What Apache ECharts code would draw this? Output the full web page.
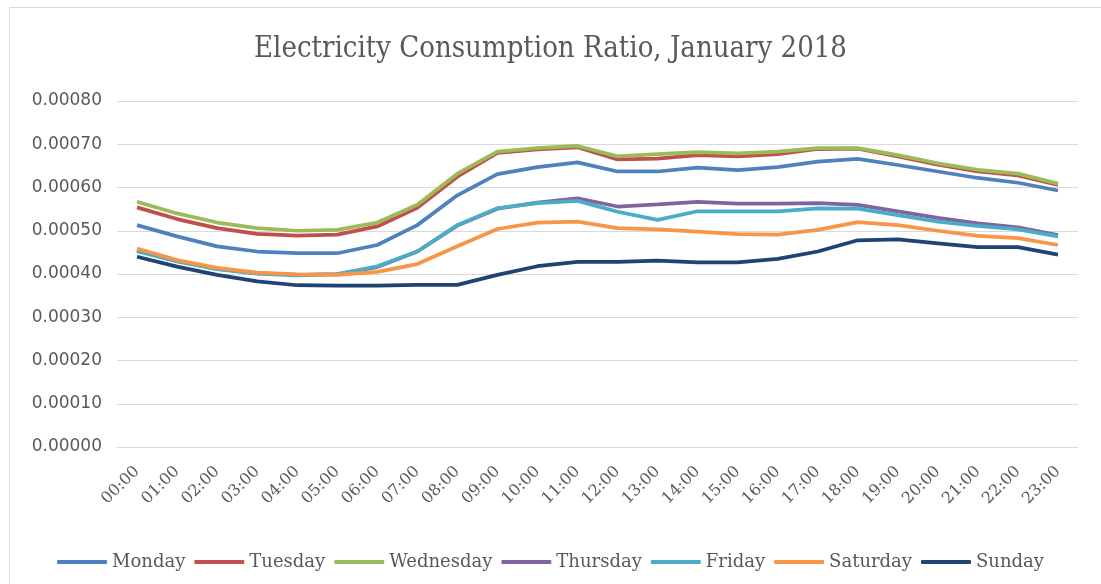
<!DOCTYPE html>
<html>
<head>
<meta charset="utf-8">
<script src="https://cdn.jsdelivr.net/npm/echarts@6/dist/echarts.min.js"></script>
<style>html,body{margin:0;padding:0;background:#fff;}#c{width:1101px;height:584px;}</style>
</head>
<body>
<div id="c"></div>
<script>
var hours = ["00:00","01:00","02:00","03:00","04:00","05:00","06:00","07:00","08:00","09:00","10:00","11:00","12:00","13:00","14:00","15:00","16:00","17:00","18:00","19:00","20:00","21:00","22:00","23:00"];
var yTicks = [0,0.0001,0.0002,0.0003,0.0004,0.0005,0.0006,0.0007,0.0008];
var monday = [0.000513,0.000487,0.000464,0.000452,0.000448,0.000448,0.000467,0.000513,0.000582,0.000631,0.000647,0.000658,0.000637,0.000637,0.000646,0.000640,0.000647,0.000660,0.000666,0.000652,0.000637,0.000622,0.000611,0.000593];
var tuesday = [0.000554,0.000527,0.000506,0.000493,0.000489,0.000491,0.000510,0.000553,0.000625,0.000680,0.000688,0.000693,0.000665,0.000667,0.000675,0.000672,0.000677,0.000689,0.000690,0.000672,0.000653,0.000637,0.000628,0.000606];
var wednesday = [0.000567,0.000540,0.000519,0.000506,0.000500,0.000502,0.000519,0.000560,0.000632,0.000683,0.000691,0.000696,0.000672,0.000677,0.000682,0.000679,0.000683,0.000691,0.000691,0.000675,0.000656,0.000641,0.000632,0.000609];
var thursday = [0.000455,0.000430,0.000412,0.000402,0.000398,0.000400,0.000416,0.000452,0.000512,0.000551,0.000565,0.000575,0.000556,0.000561,0.000567,0.000563,0.000563,0.000564,0.000560,0.000545,0.000530,0.000517,0.000508,0.000490];
var friday = [0.000453,0.000429,0.000411,0.000401,0.000397,0.000399,0.000418,0.000452,0.000513,0.000552,0.000564,0.000569,0.000544,0.000525,0.000545,0.000545,0.000545,0.000552,0.000551,0.000536,0.000521,0.000511,0.000503,0.000487];
var saturday = [0.000459,0.000432,0.000414,0.000403,0.000399,0.000398,0.000405,0.000423,0.000464,0.000504,0.000519,0.000521,0.000506,0.000503,0.000498,0.000492,0.000491,0.000502,0.000520,0.000513,0.000500,0.000488,0.000483,0.000467];
var sunday = [0.000440,0.000417,0.000398,0.000383,0.000374,0.000373,0.000373,0.000375,0.000375,0.000398,0.000418,0.000428,0.000428,0.000431,0.000427,0.000427,0.000435,0.000452,0.000478,0.000480,0.000471,0.000462,0.000462,0.000445];

var names = ["Monday","Tuesday","Wednesday","Thursday","Friday","Saturday","Sunday"];
var colors = ["#4F81BD","#C0504D","#9BBB59","#8064A2","#4BACC6","#F79646","#1F4373"];
var values = [monday,tuesday,wednesday,thursday,friday,saturday,sunday];

var serifC = '"DejaVu Serif Condensed","DejaVu Serif",serif';
var serif = '"DejaVu Serif",serif';
var chart = echarts.init(document.getElementById('c'), null, {renderer:'canvas'});
chart.setOption({
  animation:false,
  backgroundColor:'#fff',
  graphic:[{type:'rect',shape:{x:9.5,y:7.5,width:1200,height:700},style:{fill:'none',stroke:'#d9d9d9',lineWidth:1},silent:true}],
  title:{text:'Electricity Consumption Ratio, January 2018',left:'center',top:30,
    textStyle:{fontFamily:serifC,fontSize:29,fontWeight:'normal',color:'#595959'}},
  legend:{bottom:8,left:'center',itemWidth:50,itemHeight:4,itemGap:9,icon:'roundRect',
    textStyle:{fontFamily:serif,fontSize:18,color:'#595959'},
    data:names},
  grid:{left:117,right:23,top:101,bottom:137},
  xAxis:{type:'category',data:hours,boundaryGap:true,
    axisLine:{show:true,lineStyle:{color:'#d9d9d9'}},axisTick:{show:false},
    axisLabel:{rotate:45,margin:22,fontFamily:serif,fontSize:16,color:'#595959',interval:0}},
  yAxis:{type:'value',min:yTicks[0],max:yTicks[yTicks.length-1],interval:0.0001,
    axisLine:{show:false},axisTick:{show:false},
    splitLine:{lineStyle:{color:'#d9d9d9'}},
    axisLabel:{fontFamily:'"DejaVu Sans",sans-serif',fontSize:17,color:'#595959',margin:15,
      formatter:function(v){return v.toFixed(5);}}},
  series:names.map(function(n,i){return {name:n,type:'line',data:values[i],symbol:'none',
    color:colors[i],lineStyle:{width:3.75,color:colors[i]},itemStyle:{color:colors[i]}};})
});
</script>
</body>
</html>
